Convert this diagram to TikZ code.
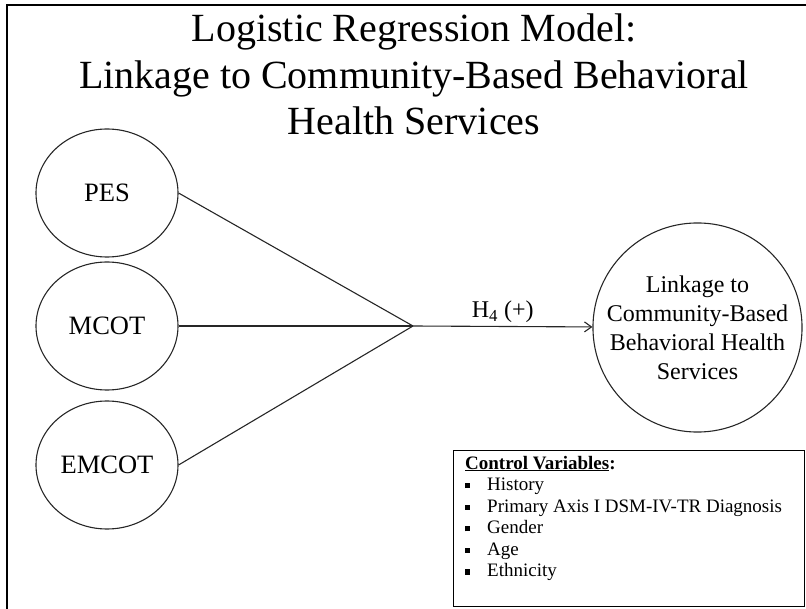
\documentclass[tikz,border=0pt]{standalone}
\usepackage{fontspec}
\setmainfont{Liberation Serif}
\usetikzlibrary{shapes.geometric,arrows.meta}
\begin{document}
\begin{tikzpicture}[x=1pt,y=-1pt,
  frame/.style={draw=black, line width=2.2pt},
  predictor/.style={ellipse, draw=black!85, line width=1.1pt,
    minimum width=142pt, minimum height=128pt, inner sep=0pt,
    font=\fontsize{26.5}{30}\selectfont},
  outcome/.style={circle, draw=black!85, line width=1.1pt,
    minimum size=195pt, inner sep=0pt, align=center,
    font=\fontsize{24}{29}\selectfont},
  link/.style={draw=black!85, line width=1.1pt},
  titleline/.style={anchor=base, inner sep=0pt,
    font=\fontsize{40}{46}\selectfont},
  ctrlbox/.style={draw=black, line width=1.4pt, inner sep=0pt,
    minimum width=351pt, minimum height=156pt, anchor=north west},
  ctrltext/.style={anchor=base west, inner sep=0pt,
    font=\fontsize{19}{21.6}\selectfont},
]
\useasboundingbox (0,0) rectangle (806,609);

% outer frame (open at the right and bottom edges)
\draw[frame] (7,612) -- (7,5) -- (812,5);

% title
\node[titleline] (title1) at (414,42)  {Logistic Regression Model:};
\node[titleline] (title2) at (414,89)  {Linkage to Community-Based Behavioral};
\node[titleline] (title3) at (414,135) {Health Services};

% predictors
\node[predictor] (pes)   at (107,193) {PES};
\node[predictor] (mcot)  at (107,326) {MCOT};
\node[predictor] (emcot) at (107,465) {EMCOT};

% outcome
\node[outcome] (link) at (697.5,327.5)
  {Linkage to\\Community-Based\\Behavioral Health\\Services};

% paths
\coordinate (hub) at (413,326);
\draw[link] (pes.east) -- (hub);
\draw[link] (mcot.east) -- (hub);
\draw[link] (emcot.east) -- (hub);
\draw[link, -{Straight Barb[length=7pt,width=10pt]}] (hub) -- (link)
  node[midway, anchor=base, yshift=9pt, inner sep=0pt,
       font=\fontsize{24}{29}\selectfont] (h4) {H\textsubscript{4} (+)};

% control variables
\node[ctrlbox] (controls) at (453,450) {};
\node[ctrltext] (ctrllist) at (465,469) {%
  \begin{tabular}[t]{@{}l@{}l@{}}
    \multicolumn{2}{@{}l@{}}{\textbf{\underline{Control Variables}:}}\\
    \makebox[22pt][l]{\rule[2.5pt]{5pt}{5pt}} & History\\
    \makebox[22pt][l]{\rule[2.5pt]{5pt}{5pt}} & Primary Axis I DSM-IV-TR Diagnosis\\
    \makebox[22pt][l]{\rule[2.5pt]{5pt}{5pt}} & Gender\\
    \makebox[22pt][l]{\rule[2.5pt]{5pt}{5pt}} & Age\\
    \makebox[22pt][l]{\rule[2.5pt]{5pt}{5pt}} & Ethnicity
  \end{tabular}};
\end{tikzpicture}
\end{document}
